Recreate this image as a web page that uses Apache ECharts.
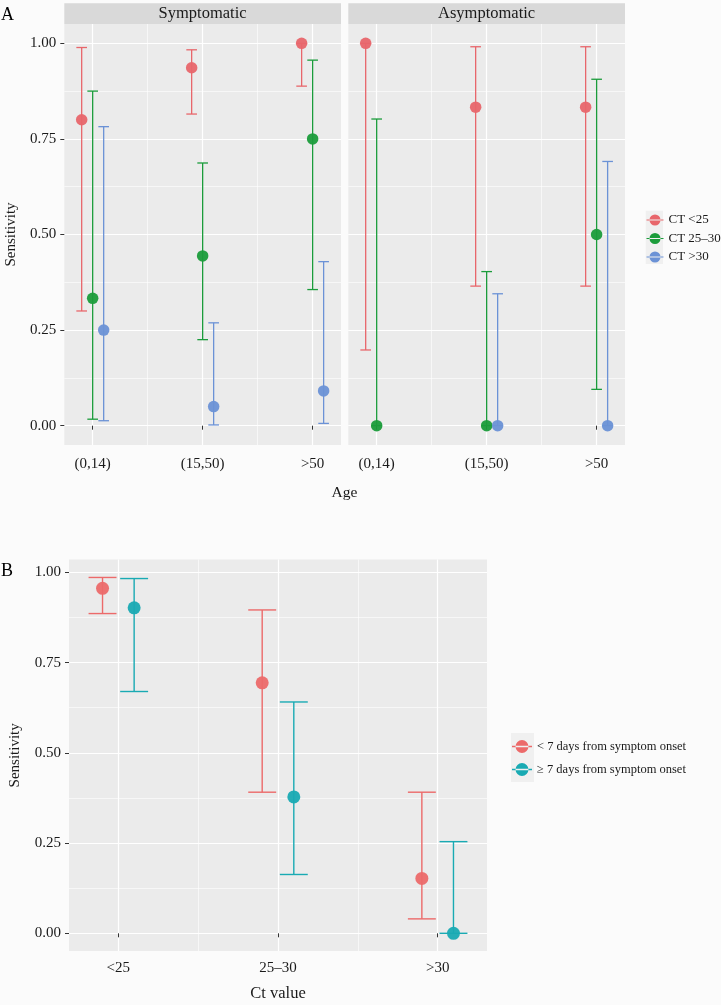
<!DOCTYPE html>
<html><head><meta charset="utf-8">
<script src="https://cdn.jsdelivr.net/npm/echarts@6/dist/echarts.min.js"></script>
<style>html,body{margin:0;padding:0;background:#fbfbfb}#c{width:721px;height:1005px}</style>
</head><body><div id="c"></div>
<script>
// ---------- DATA ----------
const ageGroups = ['(0,14)', '(15,50)', '>50'];
const ctGroups = ['CT <25', 'CT 25–30', 'CT >30'];
const panelNames = ['Symptomatic', 'Asymptomatic'];
const sensTicks = [0, 0.25, 0.5, 0.75, 1];

// Symptomatic panel (per age group)
const symEstCT25 = [0.80, 0.936, 1.00];
const symLoCT25  = [0.300, 0.815, 0.888];
const symHiCT25  = [0.989, 0.983, 1.00];
const symEstCT2530 = [0.333, 0.444, 0.750];
const symLoCT2530  = [0.017, 0.225, 0.356];
const symHiCT2530  = [0.875, 0.687, 0.956];
const symEstCT30 = [0.250, 0.050, 0.091];
const symLoCT30  = [0.013, 0.002, 0.006];
const symHiCT30  = [0.782, 0.269, 0.429];

// Asymptomatic panel (per age group)
const asyEstCT25 = [1.00, 0.833, 0.833];
const asyLoCT25  = [0.198, 0.365, 0.365];
const asyHiCT25  = [1.00, 0.991, 0.991];
const asyEstCT2530 = [0.00, 0.00, 0.500];
const asyLoCT2530  = [0.00, 0.00, 0.095];
const asyHiCT2530  = [0.802, 0.403, 0.906];
const asyEstCT30 = [null, 0.00, 0.00];
const asyLoCT30  = [null, 0.00, 0.00];
const asyHiCT30  = [null, 0.345, 0.691];

// Panel B (per Ct category)
const ctCats = ['<25', '25–30', '>30'];
const onsetGroups = ['< 7 days from symptom onset', '≥ 7 days from symptom onset'];
const earlyEst = [0.956, 0.694, 0.152];
const earlyLo  = [0.886, 0.391, 0.040];
const earlyHi  = [0.986, 0.896, 0.391];
const lateEst  = [0.902, 0.378, 0.000];
const lateLo   = [0.670, 0.163, 0.000];
const lateHi   = [0.983, 0.641, 0.254];

// ---------- STYLE ----------
const FONT = 'Liberation Serif';
const colA = ['#e8666b', '#1b9c3b', '#6b92d6'];
const colB = ['#ec6a6a', '#19aab3'];
const PANEL = '#ebebeb';
const TXT = '#1a1a1a';

const keyIcon = 'path://M0,5.4h17v1.2h-17z M3,6a5.5,5.5 0 1,0 11,0a5.5,5.5 0 1,0 -11,0z';

function errRender(capW, lw) {
  return function (params, api) {
    const x = api.value(0), lo = api.value(1), hi = api.value(2);
    if (isNaN(lo) || isNaN(hi)) return null;
    const a = api.coord([x, lo]), b = api.coord([x, hi]);
    const h = api.size([capW, 0])[0] / 2;
    const st = { stroke: api.visual('color'), lineWidth: lw, fill: null };
    return { type: 'group', children: [
      { type: 'line', shape: { x1: a[0], y1: a[1], x2: b[0], y2: b[1] }, style: st },
      { type: 'line', shape: { x1: b[0] - h, y1: b[1], x2: b[0] + h, y2: b[1] }, style: st },
      { type: 'line', shape: { x1: a[0] - h, y1: a[1], x2: a[0] + h, y2: a[1] }, style: st }
    ]};
  };
}

function makeAxes(gi, cats, xmin, xmax, ymin, ymax, showY, xMargin) {
  const xs = [
    { type: 'value', gridIndex: gi, min: xmin, max: xmax, position: 'bottom',
      axisLine: { show: false },
      axisTick: { show: true, customValues: [1, 2, 3], length: 4, lineStyle: { color: '#333', width: 1 } },
      axisLabel: { customValues: [1, 2, 3], margin: xMargin, formatter: v => cats[Math.round(v) - 1],
        fontFamily: FONT, fontSize: 15, color: TXT },
      splitLine: { show: true, lineStyle: { color: '#ffffff', width: 1.2 } } },
    { type: 'value', gridIndex: gi, min: xmin, max: xmax, position: 'top',
      axisLine: { show: false },
      axisTick: { show: false, customValues: [1.5, 2.5] },
      axisLabel: { show: false },
      splitLine: { show: true, lineStyle: { color: '#ffffff', width: 0.6 } } }
  ];
  const ys = [
    { type: 'value', gridIndex: gi, min: ymin, max: ymax, position: 'left',
      axisLine: { show: false },
      axisTick: { show: showY, customValues: sensTicks, length: 4, lineStyle: { color: '#333', width: 1 } },
      axisLabel: { show: showY, customValues: sensTicks, margin: 8, formatter: v => v.toFixed(2),
        fontFamily: FONT, fontSize: 15, color: TXT },
      splitLine: { show: true, lineStyle: { color: '#ffffff', width: 1.2 } },
      name: showY ? 'Sensitivity' : '', nameLocation: 'middle', nameGap: 46,
      nameTextStyle: { fontFamily: FONT, fontSize: 15, color: TXT } },
    { type: 'value', gridIndex: gi, min: ymin, max: ymax, position: 'right',
      axisLine: { show: false },
      axisTick: { show: false, customValues: [0.125, 0.375, 0.625, 0.875] },
      axisLabel: { show: false },
      splitLine: { show: true, lineStyle: { color: '#ffffff', width: 0.6 } } }
  ];
  return { xs, ys };
}

const grids = [
  { left: 64.3, top: 24, width: 276.7, height: 421, show: true, backgroundColor: PANEL, borderWidth: 0 },
  { left: 348.3, top: 24, width: 276.7, height: 421, show: true, backgroundColor: PANEL, borderWidth: 0 },
  { left: 65, top: 559.6, width: 422, height: 391.5, show: true, backgroundColor: PANEL, borderWidth: 0 }
];

const xAxes = [], yAxes = [];
const axA0 = makeAxes(0, ageGroups, 0.742, 3.258, -0.0505, 1.0505, true, 12);
const axA1 = makeAxes(1, ageGroups, 0.742, 3.258, -0.0505, 1.0505, false, 12);
const axB = makeAxes(2, ctCats, 0.691, 3.309, -0.0493, 1.0355, true, 9);
[axA0, axA1, axB].forEach(a => { xAxes.push(...a.xs); yAxes.push(...a.ys); });
// "Ct value" title on panel B
xAxes[4].name = 'Ct value';
xAxes[4].nameLocation = 'middle';
xAxes[4].nameGap = 34;
xAxes[4].nameTextStyle = { fontFamily: FONT, fontSize: 16.5, color: TXT };

const series = [];
function addGroup(axisIdx, name, color, est, lo, hi, offset, capW, lw, size) {
  const errData = est.map((e, i) => [i + 1 + offset, lo[i], hi[i]]).filter(d => d[1] !== null);
  const ptData = est.map((e, i) => [i + 1 + offset, e]).filter(d => d[1] !== null);
  series.push({
    type: 'custom', name, xAxisIndex: axisIdx, yAxisIndex: axisIdx,
    itemStyle: { color }, renderItem: errRender(capW, lw), data: errData,
    encode: { x: 0, y: [1, 2] }, z: 2, clip: false, silent: true
  });
  series.push({
    type: 'scatter', name, xAxisIndex: axisIdx, yAxisIndex: axisIdx, data: ptData,
    symbol: 'circle', symbolSize: size, itemStyle: { color, opacity: 0.95 }, z: 3, silent: true
  });
}

const symSets = [[symEstCT25, symLoCT25, symHiCT25], [symEstCT2530, symLoCT2530, symHiCT2530], [symEstCT30, symLoCT30, symHiCT30]];
const asySets = [[asyEstCT25, asyLoCT25, asyHiCT25], [asyEstCT2530, asyLoCT2530, asyHiCT2530], [asyEstCT30, asyLoCT30, asyHiCT30]];
const dodgeA = [-0.1, 0, 0.1];
symSets.forEach((s, k) => addGroup(0, ctGroups[k], colA[k], s[0], s[1], s[2], dodgeA[k], 0.097, 1.3, 11.5));
asySets.forEach((s, k) => addGroup(2, ctGroups[k], colA[k], s[0], s[1], s[2], dodgeA[k], 0.097, 1.3, 11.5));
const bSets = [[earlyEst, earlyLo, earlyHi], [lateEst, lateLo, lateHi]];
const dodgeB = [-0.099, 0.099];
bSets.forEach((s, k) => addGroup(4, onsetGroups[k], colB[k], s[0], s[1], s[2], dodgeB[k], 0.175, 1.4, 13));

const option = {
  backgroundColor: '#fbfbfb',
  animation: false,
  grid: grids,
  xAxis: xAxes,
  yAxis: yAxes,
  series,
  legend: [
    { data: ctGroups.map(n => ({ name: n, icon: keyIcon })), orient: 'vertical', padding: 0,
      left: 646.5, top: 213.5, itemWidth: 17, itemHeight: 11, itemGap: 5.5, selectedMode: false,
      textStyle: { fontFamily: FONT, fontSize: 13, color: TXT } },
    { data: onsetGroups.map(n => ({ name: n, icon: keyIcon })), orient: 'vertical', padding: 0,
      left: 512, top: 740, itemWidth: 20, itemHeight: 13, itemGap: 10, selectedMode: false,
      textStyle: { fontFamily: FONT, fontSize: 12.5, color: TXT } }
  ],
  graphic: [
    { type: 'rect', shape: { x: 64.3, y: 3.3, width: 276.7, height: 20.7 }, style: { fill: '#d9d9d9' }, z: -1 },
    { type: 'rect', shape: { x: 348.3, y: 3.3, width: 276.7, height: 20.7 }, style: { fill: '#d9d9d9' }, z: -1 },
    { type: 'text', x: 202.6, y: 14, style: { text: panelNames[0], font: '16.5px "Liberation Serif"', fill: TXT, textAlign: 'center', textVerticalAlign: 'middle' } },
    { type: 'text', x: 486.6, y: 14, style: { text: panelNames[1], font: '16.5px "Liberation Serif"', fill: TXT, textAlign: 'center', textVerticalAlign: 'middle' } },
    { type: 'text', x: 344.5, y: 493, style: { text: 'Age', font: '15.5px "Liberation Serif"', fill: TXT, textAlign: 'center', textVerticalAlign: 'middle' } },
    { type: 'text', x: 1, y: 15, style: { text: 'A', font: '18px "Liberation Serif"', fill: '#000', textAlign: 'left', textVerticalAlign: 'middle' } },
    { type: 'text', x: 1, y: 571, style: { text: 'B', font: '18px "Liberation Serif"', fill: '#000', textAlign: 'left', textVerticalAlign: 'middle' } },
    { type: 'rect', shape: { x: 645.7, y: 210.7, width: 17.3, height: 53.3 }, style: { fill: '#f0f0f0' }, z: -1 },
    { type: 'rect', shape: { x: 511, y: 733, width: 23, height: 49 }, style: { fill: '#f0f0f0' }, z: -1 }
  ]
};
echarts.init(document.getElementById('c'), null, { renderer: 'canvas' }).setOption(option);
</script></body></html>
